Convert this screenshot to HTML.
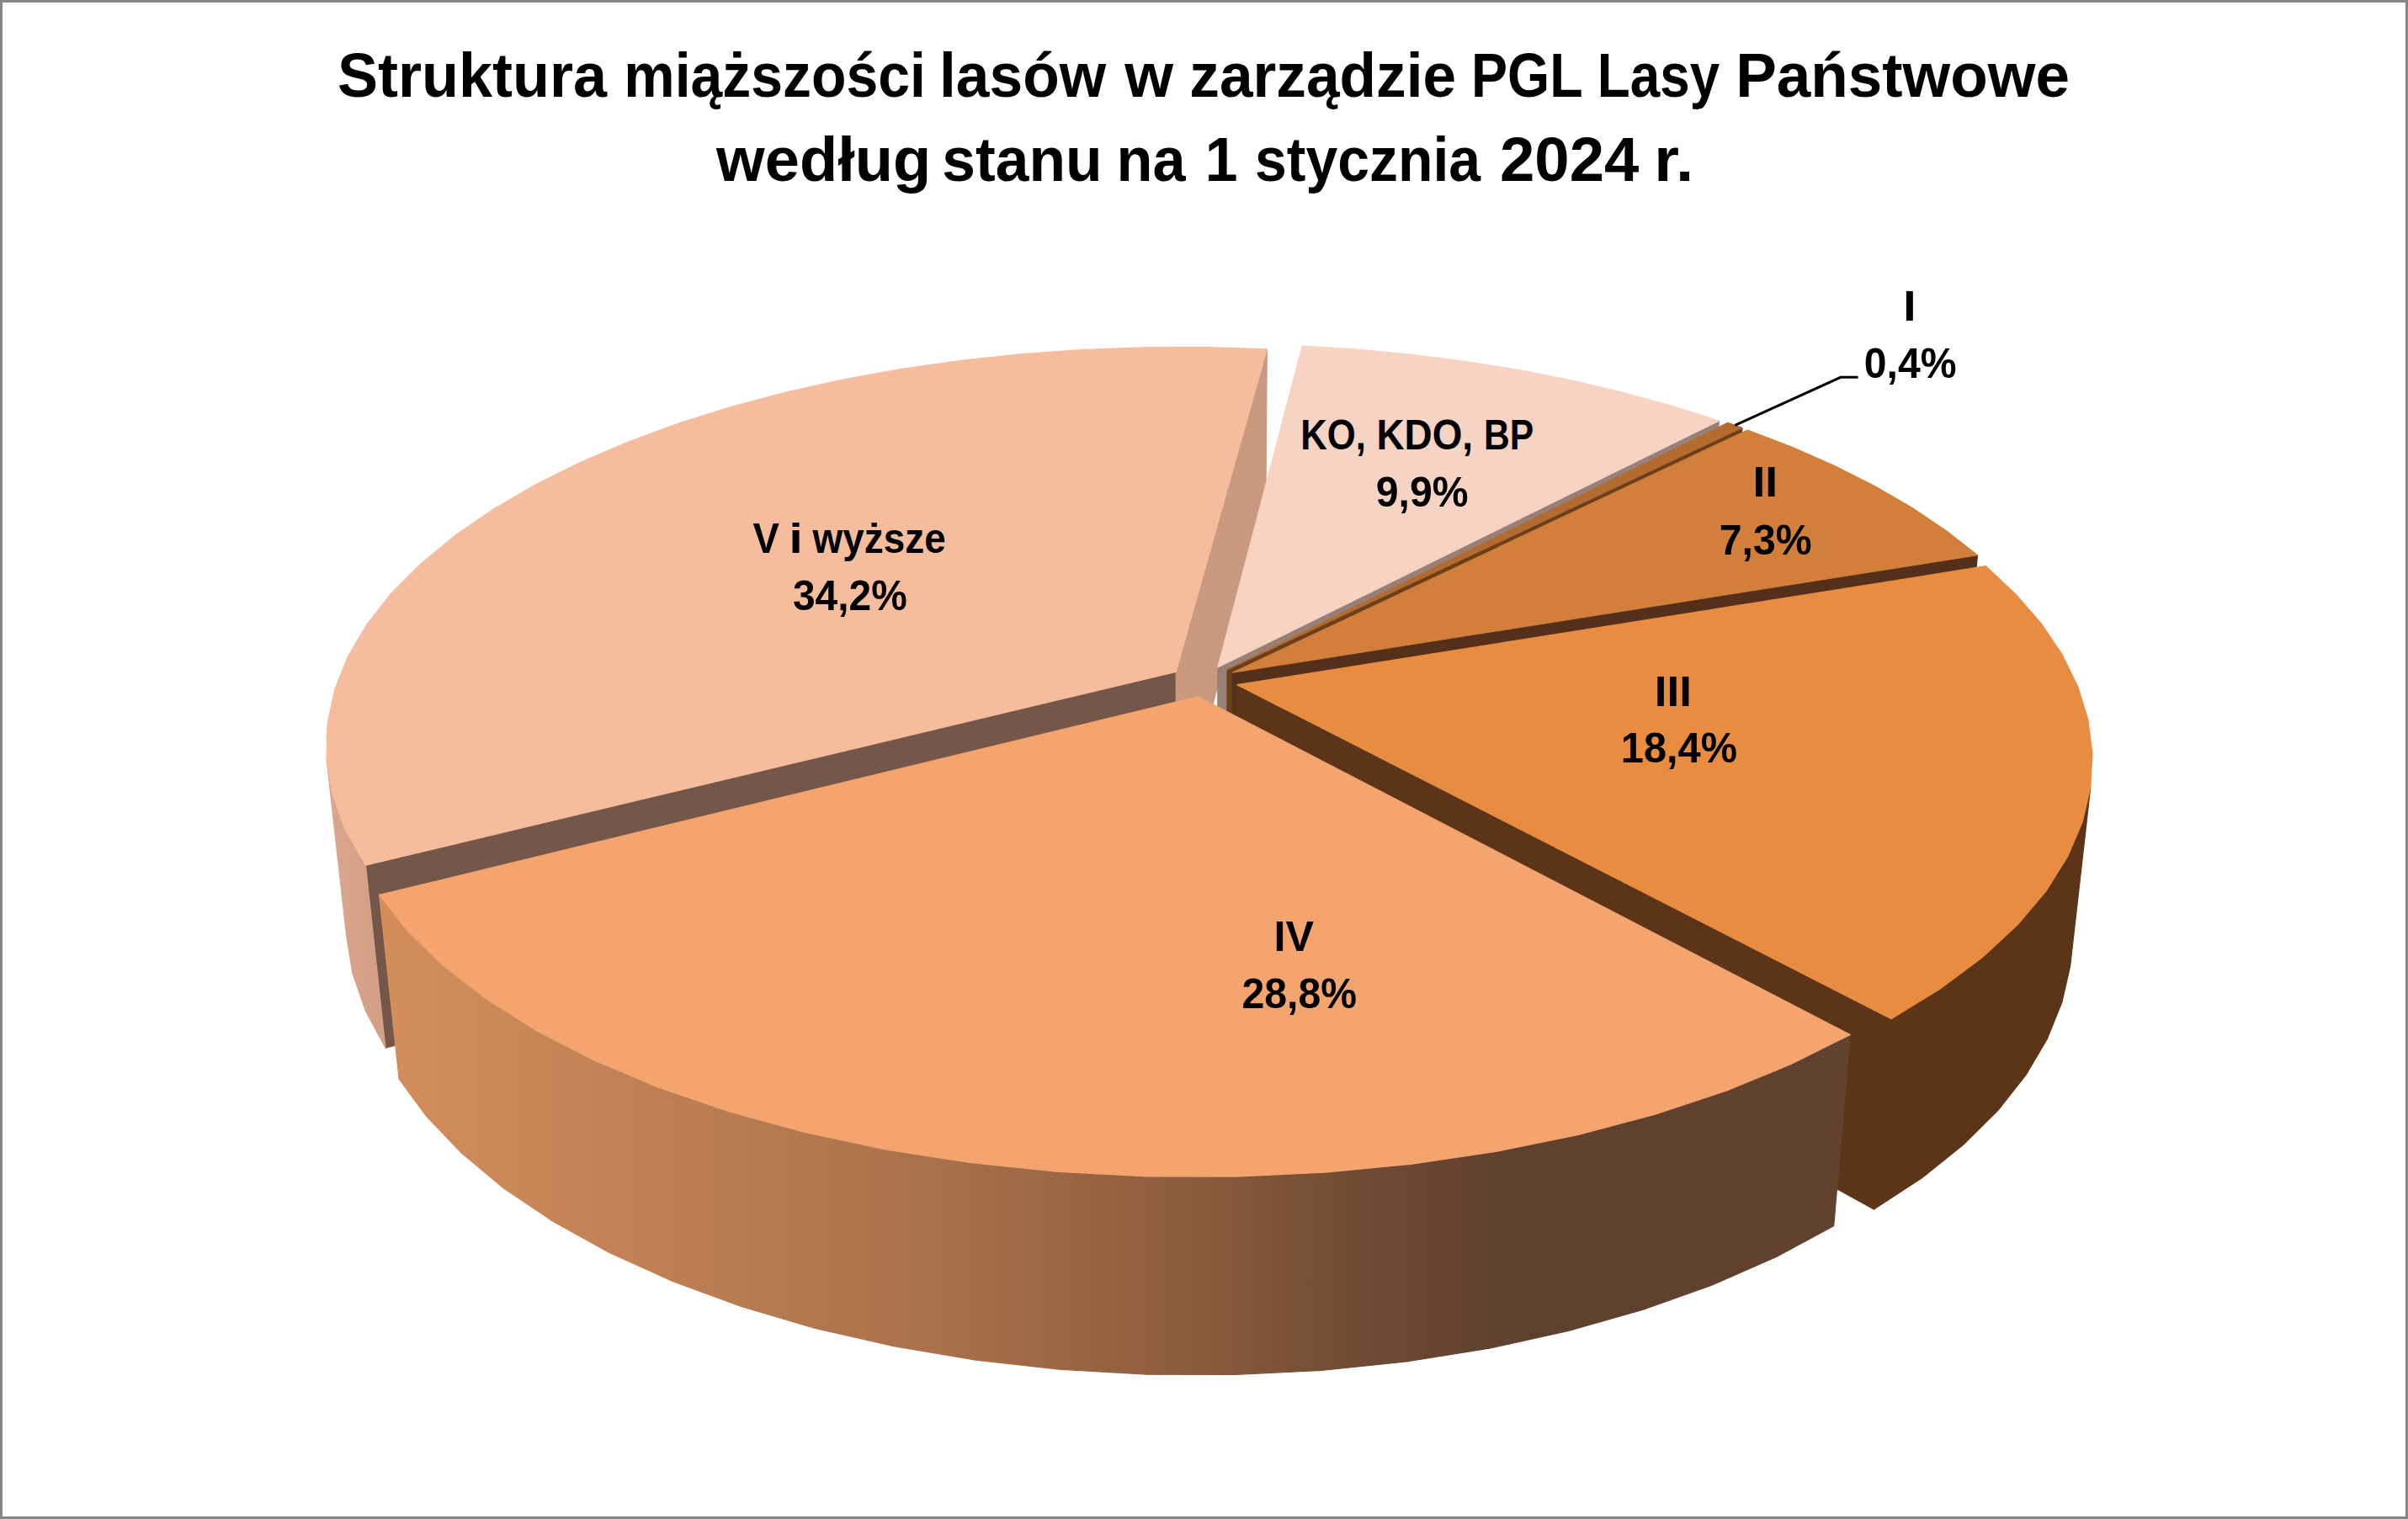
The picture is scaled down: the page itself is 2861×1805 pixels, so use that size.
<!DOCTYPE html>
<html><head><meta charset="utf-8"><style>
html,body{margin:0;padding:0;background:#fff;overflow:hidden;}
svg{display:block;}
text{font-family:"Liberation Sans",sans-serif;font-weight:bold;fill:#000;}
</style></head><body>
<svg width="2861" height="1805" viewBox="0 0 2861 1805">
<defs>
<linearGradient id="gIV" gradientUnits="userSpaceOnUse" x1="470" y1="0" x2="2200" y2="0">
<stop offset="0" stop-color="#D38D5B"/>
<stop offset="0.38" stop-color="#A8704A"/>
<stop offset="0.55" stop-color="#8B5B3C"/>
<stop offset="0.66" stop-color="#6F4B34"/>
<stop offset="0.77" stop-color="#5E402E"/>
<stop offset="1" stop-color="#61422F"/>
</linearGradient>
<linearGradient id="gV" gradientUnits="userSpaceOnUse" x1="385" y1="0" x2="465" y2="0">
<stop offset="0" stop-color="#DAA88E"/>
<stop offset="1" stop-color="#D19E84"/>
</linearGradient>

</defs>
<rect x="0" y="0" width="2861" height="1805" fill="#ffffff"/>
<polygon points="1397.2,798.3 434.4,1028.2 458.0,1245.2 1397.9,1002.5" fill="#745749" stroke="#745749" stroke-width="1.2" stroke-linejoin="round"/>
<polygon points="1397.2,798.3 1505.3,414.9 1503.9,595.7 1397.9,1002.5" fill="#C99A80" stroke="#C99A80" stroke-width="1.2" stroke-linejoin="round"/>
<polygon points="434.4,1028.2 410.4,986.2 395.0,943.9 388.0,901.7 411.6,1111.8 418.8,1156.3 434.2,1200.9 458.0,1245.2" fill="url(#gV)" stroke="url(#gV)" stroke-width="1.2" stroke-linejoin="round"/>
<polygon points="1397.2,798.3 434.4,1028.2 410.4,986.2 395.0,943.9 388.0,901.7 389.0,860.1 397.7,819.4 413.6,779.7 436.3,741.4 465.3,704.7 500.2,669.7 540.4,636.6 585.5,605.5 635.1,576.5 688.7,549.8 745.8,525.3 806.1,503.1 869.2,483.3 934.8,465.9 1002.3,450.9 1071.6,438.4 1142.3,428.3 1214.0,420.7 1286.5,415.5 1359.4,412.8 1432.4,412.6 1505.3,414.9" fill="#F5BC9D" stroke="#F5BC9D" stroke-width="1.2" stroke-linejoin="round"/>
<polygon points="1446.9,793.0 2042.3,500.1 2030.5,686.4 1446.6,996.9" fill="#998076" stroke="#998076" stroke-width="1.2" stroke-linejoin="round"/>
<polygon points="1446.9,793.0 1547.3,411.1 1612.8,415.2 1677.7,421.4 1741.8,429.5 1804.9,439.7 1866.8,451.8 1927.2,466.0 1985.8,482.1 2042.3,500.1" fill="#F6D3C2" stroke="#F6D3C2" stroke-width="1.2" stroke-linejoin="round"/>
<polygon points="1458.1,795.8 2069.9,508.3 2057.6,695.1 1457.5,999.9" fill="#6C3F1C" stroke="#6C3F1C" stroke-width="1.2" stroke-linejoin="round"/>
<polygon points="1458.1,795.8 2052.8,502.3 2069.9,508.3" fill="#B46B2F" stroke="#B46B2F" stroke-width="1.2" stroke-linejoin="round"/>
<polygon points="1464.5,799.2 2349.5,659.7 2330.6,855.8 1463.7,1003.5" fill="#54301A" stroke="#54301A" stroke-width="1.2" stroke-linejoin="round"/>
<polygon points="1464.5,799.2 2076.3,511.0 2129.3,531.3 2179.7,553.5 2227.3,577.5 2271.6,603.3 2312.5,630.7 2349.5,659.7" fill="#D17F3A" stroke="#D17F3A" stroke-width="1.2" stroke-linejoin="round"/>
<polygon points="1469.7,813.7 2247.0,1210.7 2226.4,1437.0 1468.9,1018.8" fill="#5C3519" stroke="#5C3519" stroke-width="1.2" stroke-linejoin="round"/>
<polygon points="2483.8,935.5 2474.2,976.6 2456.7,1017.7 2431.2,1058.5 2397.4,1098.6 2355.4,1137.6 2305.2,1175.1 2247.0,1210.7 2226.4,1437.0 2283.4,1399.7 2332.6,1360.3 2373.9,1319.3 2407.2,1277.1 2432.5,1234.1 2449.9,1190.8 2459.7,1147.5" fill="#5C3519" stroke="#5C3519" stroke-width="1.2" stroke-linejoin="round"/>
<polygon points="1469.7,813.7 2359.3,672.7 2394.9,706.1 2425.3,741.1 2450.0,777.7 2468.6,815.7 2480.7,854.8 2485.9,894.8 2483.8,935.5 2474.2,976.6 2456.7,1017.7 2431.2,1058.5 2397.4,1098.6 2355.4,1137.6 2305.2,1175.1 2247.0,1210.7" fill="#E88C42" stroke="#E88C42" stroke-width="1.2" stroke-linejoin="round"/>
<polygon points="2198.3,1229.5 2128.6,1264.3 2051.1,1296.1 1966.4,1324.2 1875.3,1348.4 1778.7,1368.1 1677.8,1383.2 1573.8,1393.2 1467.9,1398.1 1361.4,1397.8 1255.7,1392.2 1152.0,1381.5 1051.8,1365.8 956.0,1345.4 865.8,1320.7 782.2,1292.1 705.9,1259.9 637.5,1224.7 577.5,1187.0 526.3,1147.2 483.9,1105.8 450.6,1063.4 474.1,1282.2 507.0,1326.9 548.6,1370.3 598.9,1412.2 657.6,1451.8 724.5,1488.7 799.0,1522.5 880.6,1552.5 968.5,1578.4 1061.8,1599.7 1159.5,1616.1 1260.4,1627.3 1363.3,1633.2 1466.9,1633.5 1570.0,1628.4 1671.2,1617.9 1769.5,1602.2 1863.5,1581.5 1952.3,1556.2 2034.9,1526.7 2110.6,1493.4 2178.7,1456.8" fill="url(#gIV)" stroke="url(#gIV)" stroke-width="1.2" stroke-linejoin="round"/>
<polygon points="1423.3,827.8 2198.3,1229.5 2128.6,1264.3 2051.1,1296.1 1966.4,1324.2 1875.3,1348.4 1778.7,1368.1 1677.8,1383.2 1573.8,1393.2 1467.9,1398.1 1361.4,1397.8 1255.7,1392.2 1152.0,1381.5 1051.8,1365.8 956.0,1345.4 865.8,1320.7 782.2,1292.1 705.9,1259.9 637.5,1224.7 577.5,1187.0 526.3,1147.2 483.9,1105.8 450.6,1063.4" fill="#F3A46F" stroke="#F3A46F" stroke-width="1.2" stroke-linejoin="round"/>
<polyline points="2061.4,505.4 2186.9,448.3 2207.6,448.3" fill="none" stroke="#000" stroke-width="3"/>
<text transform="translate(400.92,115.00) scale(0.9671,1)" font-size="74.5">Struktura</text>
<text transform="translate(741.29,115.00) scale(0.9115,1)" font-size="74.5">miąższości</text>
<text transform="translate(1116.05,115.00) scale(0.9569,1)" font-size="74.5">lasów</text>
<text transform="translate(1336.17,115.00) scale(0.9973,1)" font-size="74.5">w</text>
<text transform="translate(1413.33,115.00) scale(0.9567,1)" font-size="74.5">zarządzie</text>
<text transform="translate(1747.94,115.00) scale(0.8667,1)" font-size="74.5">PGL</text>
<text transform="translate(1897.75,115.00) scale(0.8564,1)" font-size="74.5">Lasy</text>
<text transform="translate(2062.14,115.00) scale(0.9783,1)" font-size="74.5">Państwowe</text>
<text transform="translate(851.04,215.00) scale(0.9948,1)" font-size="74.5">według</text>
<text transform="translate(1119.33,215.00) scale(0.9576,1)" font-size="74.5">stanu</text>
<text transform="translate(1326.52,215.00) scale(0.9437,1)" font-size="74.5">na</text>
<text transform="translate(1431.76,215.00) scale(0.9361,1)" font-size="74.5">1</text>
<text transform="translate(1491.05,215.00) scale(0.9119,1)" font-size="74.5">stycznia</text>
<text transform="translate(1781.99,215.00) scale(0.9985,1)" font-size="74.5">2024</text>
<text transform="translate(1965.35,215.00) scale(1.0262,1)" font-size="74.5">r.</text>
<text transform="translate(894.40,657.00) scale(0.9425,1)" font-size="50">V</text>
<text transform="translate(937.47,657.00) scale(1.1675,1)" font-size="50">i</text>
<text transform="translate(965.60,657.00) scale(0.9177,1)" font-size="50">wyższe</text>
<text transform="translate(941.97,725.00) scale(0.9586,1)" font-size="50">34,2%</text>
<text transform="translate(1545.19,534.10) scale(0.8732,1)" font-size="50">KO,</text>
<text transform="translate(1635.43,534.10) scale(0.9174,1)" font-size="50">KDO,</text>
<text transform="translate(1763.03,534.10) scale(0.8525,1)" font-size="50">BP</text>
<text transform="translate(1634.73,602.30) scale(0.9634,1)" font-size="50">9,9%</text>
<text transform="translate(2261.21,381.20) scale(1.0987,1)" font-size="50">I</text>
<text transform="translate(2214.73,449.40) scale(0.9634,1)" font-size="50">0,4%</text>
<text transform="translate(2082.55,590.00) scale(1.0654,1)" font-size="50">II</text>
<text transform="translate(2042.70,658.50) scale(0.9656,1)" font-size="50">7,3%</text>
<text transform="translate(1965.83,838.60) scale(1.0570,1)" font-size="50">III</text>
<text transform="translate(1925.87,906.40) scale(0.9743,1)" font-size="50">18,4%</text>
<text transform="translate(1513.56,1129.50) scale(1.0067,1)" font-size="50">IV</text>
<text transform="translate(1475.52,1197.70) scale(0.9635,1)" font-size="50">28,8%</text>
<rect x="1.5" y="1.5" width="2858" height="1802" fill="none" stroke="#868686" stroke-width="3"/>
</svg>
</body></html>
